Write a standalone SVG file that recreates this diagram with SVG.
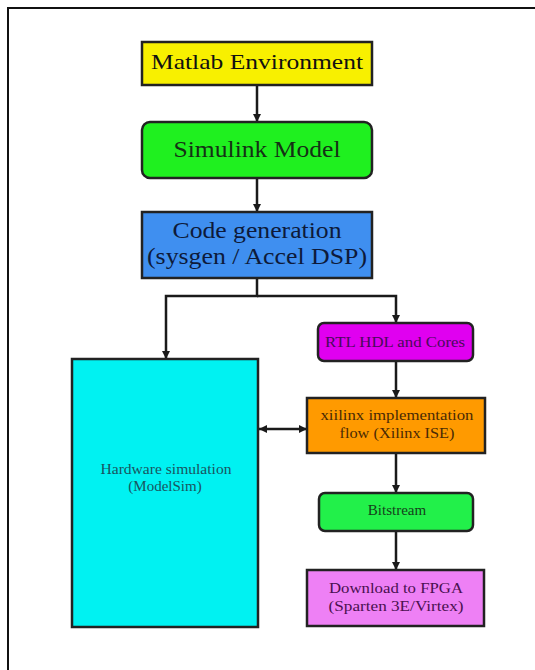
<svg xmlns="http://www.w3.org/2000/svg" width="535" height="670" viewBox="0 0 535 670">
<style>
.box{stroke:#222;stroke-width:2.5}
.t{font-family:"Liberation Serif","Times New Roman",serif;text-anchor:middle}
.c{fill:none;stroke:#1a1a1a;stroke-width:2.5}
</style>
<defs>
<marker id="ah" markerUnits="userSpaceOnUse" markerWidth="10" markerHeight="10" refX="8" refY="5" orient="auto-start-reverse">
<path d="M0,1 L8,5 L0,9 Z" fill="#1a1a1a"/>
</marker>
</defs>
<rect width="535" height="670" fill="#fff"/>
<path d="M8,670 V8 H535" fill="none" stroke="#111" stroke-width="2"/>
<g id="connectors">
<path class="c" d="M257,85 V122" marker-end="url(#ah)"/>
<path class="c" d="M257,178 V212" marker-end="url(#ah)"/>
<path class="c" d="M257,278 V296 H166 V359" marker-end="url(#ah)"/>
<path class="c" d="M257,296 H396 V323" marker-end="url(#ah)"/>
<path class="c" d="M396,361 V398" marker-end="url(#ah)"/>
<path class="c" d="M259,429 H307" marker-start="url(#ah)" marker-end="url(#ah)"/>
<path class="c" d="M396,453 V493" marker-end="url(#ah)"/>
<path class="c" d="M396,531 V570" marker-end="url(#ah)"/>
</g>
<g id="matlab">
<rect class="box" x="142" y="42" width="230" height="43" fill="#f8f000"/>
<text class="t" x="257" y="69" font-size="22" fill="#111" textLength="212" lengthAdjust="spacingAndGlyphs">Matlab Environment</text>
</g>
<g id="simulink">
<rect class="box" x="142" y="122" width="230" height="56" rx="8" fill="#1ff01f"/>
<text class="t" x="257" y="157" font-size="24" fill="#153015" textLength="167" lengthAdjust="spacingAndGlyphs">Simulink Model</text>
</g>
<g id="codegen">
<rect class="box" x="142" y="212" width="230" height="66" fill="#3f8ff0"/>
<text class="t" x="257" y="238" font-size="24" fill="#0d1a3a" textLength="169" lengthAdjust="spacingAndGlyphs">Code generation</text>
<text class="t" x="257" y="264" font-size="24" fill="#0d1a3a" textLength="220" lengthAdjust="spacingAndGlyphs">(sysgen / Accel DSP)</text>
</g>
<g id="rtl">
<rect class="box" x="318" y="323" width="155" height="38" rx="6" fill="#e000f0"/>
<text class="t" x="395" y="347" font-size="15" fill="#4a0a5a" textLength="140" lengthAdjust="spacingAndGlyphs">RTL HDL and Cores</text>
</g>
<g id="hwsim">
<rect class="box" x="72" y="359" width="186" height="268" fill="#00f2f2"/>
<text class="t" x="166" y="474" font-size="15" fill="#1a5560" textLength="131" lengthAdjust="spacingAndGlyphs">Hardware simulation</text>
<text class="t" x="165" y="491" font-size="15" fill="#1a5560">(ModelSim)</text>
</g>
<g id="xilinx">
<rect class="box" x="307" y="398" width="178" height="55" fill="#ff9a00"/>
<text class="t" x="397" y="420" font-size="15" fill="#4a2a05" textLength="153" lengthAdjust="spacingAndGlyphs">xiilinx implementation</text>
<text class="t" x="397" y="438" font-size="15" fill="#4a2a05" textLength="115" lengthAdjust="spacingAndGlyphs">flow (Xilinx ISE)</text>
</g>
<g id="bitstream">
<rect class="box" x="319" y="493" width="154" height="38" rx="6" fill="#22f04a"/>
<text class="t" x="397" y="515" font-size="15" fill="#15401a">Bitstream</text>
</g>
<g id="download">
<rect class="box" x="307" y="570" width="177" height="56" fill="#ee80f5"/>
<text class="t" x="396" y="593" font-size="15" fill="#4a1050" textLength="134" lengthAdjust="spacingAndGlyphs">Download to FPGA</text>
<text class="t" x="396" y="611" font-size="15" fill="#4a1050" textLength="135" lengthAdjust="spacingAndGlyphs">(Sparten 3E/Virtex)</text>
</g>
</svg>
